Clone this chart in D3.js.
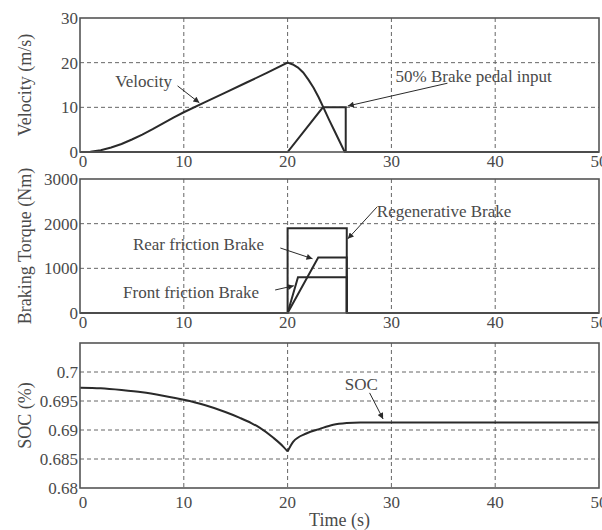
<!DOCTYPE html>
<html>
<head>
<meta charset="utf-8">
<script src="https://cdn.jsdelivr.net/npm/d3@7"></script>
<style>
  body { margin: 0; background: #fff; }
  text { font-family: "Liberation Serif", "DejaVu Serif", serif; fill: #4a4a4a; }
</style>
</head>
<body>
<div id="chart"></div>
<script>
// x axis (time, s)
const timeTicks = [0, 10, 20, 30, 40, 50];

// panel 1 : velocity (m/s) and brake pedal input
const velTicks = [0, 10, 20, 30];
const velocity = [
  [0, 0], [1, 0.05], [2, 0.4], [3, 1.0], [4, 1.8], [5, 2.8], [6, 3.9], [7, 5.1],
  [8, 6.4], [9, 7.7], [10, 8.9], [12, 11.1], [14, 13.3], [16, 15.5], [18, 17.7],
  [20, 20], [20.5, 19.6], [21, 18.9], [21.5, 17.8], [22, 16.2], [22.5, 14.4],
  [23, 12.2], [23.5, 9.7], [24, 7.2], [24.5, 4.8], [25, 2.4], [25.5, 0], [50, 0]
];
const pedal = [[0, 0], [20, 0], [23.4, 10], [25.6, 10], [25.6, 0], [50, 0]];

// panel 2 : braking torque (Nm)
const torqueTicks = [0, 1000, 2000, 3000];
const regenBrake = [[0, 0], [20, 0], [20, 1900], [25.7, 1900], [25.7, 0], [50, 0]];
const rearBrake = [[20, 0], [22.95, 1240], [25.7, 1240], [25.7, 0]];
const frontBrake = [[20, 0], [21.0, 800], [25.7, 800], [25.7, 0]];

// panel 3 : state of charge
const socTicks = [0.68, 0.685, 0.69, 0.695, 0.7];
const soc = [
  [0, 0.6973], [2, 0.6972], [4, 0.6969], [6, 0.6965], [8, 0.6959], [10, 0.6952],
  [12, 0.6943], [14, 0.6931], [15.4, 0.6921], [16.5, 0.6912], [17.3, 0.6904],
  [18.6, 0.6887], [19.6, 0.6871], [20, 0.6863], [20.55, 0.688], [21.8, 0.6894],
  [23.1, 0.6902], [24.4, 0.6909], [25.7, 0.6912], [27, 0.6913], [50, 0.6913]
];
const socDipTime = 20;

// annotations: text, text anchor point, arrow start, arrow tip (data units)
const velNotes = [
  { text: "Velocity", at: [3.4, 14.6], from: [9.4, 14.8], to: [11.5, 11.0] },
  { text: "50% Brake pedal input", at: [30.4, 15.7], from: [35.4, 15.4], to: [25.8, 10.3] }
];
const torqueNotes = [
  { text: "Regenerative Brake", at: [28.6, 2150], from: [28.6, 2370], to: [25.8, 1660] },
  { text: "Rear friction Brake", at: [5.1, 1410], from: [19.3, 1455], to: [22.4, 1215] },
  { text: "Front friction Brake", at: [4.15, 336], from: [18.8, 515], to: [20.6, 610] }
];
const socNotes = [
  { text: "SOC", at: [25.5, 0.6969], from: [27.9, 0.6964], to: [29.2, 0.6919] }
];

const width = 602, height = 530;
const left = 80, right = 599;

const svg = d3.select("#chart")
  .append("svg")
  .attr("width", width)
  .attr("height", height);

svg.append("defs")
  .append("marker")
  .attr("id", "arrow")
  .attr("viewBox", "0 0 10 10")
  .attr("refX", 10)
  .attr("refY", 5)
  .attr("markerUnits", "userSpaceOnUse")
  .attr("markerWidth", 8)
  .attr("markerHeight", 6)
  .attr("orient", "auto")
  .append("path")
  .attr("d", "M0,0L10,5L0,10z")
  .attr("fill", "#2a2a2a");

const x = d3.scaleLinear().domain([0, 50]).range([left, right]);

function drawPanel(cfg) {
  const y = d3.scaleLinear().domain(cfg.domain).range([cfg.bottom, cfg.top]);
  const g = svg.append("g");

  // dashed grid
  g.selectAll(".vgrid")
    .data(timeTicks.slice(1, -1))
    .join("line")
    .attr("x1", (d) => x(d)).attr("x2", (d) => x(d))
    .attr("y1", cfg.top).attr("y2", cfg.bottom)
    .attr("stroke", "#666")
    .attr("stroke-dasharray", "4,3");
  g.selectAll(".hgrid")
    .data(cfg.ticks.filter((d) => d > cfg.domain[0] && d < cfg.domain[1]))
    .join("line")
    .attr("x1", left).attr("x2", right)
    .attr("y1", (d) => y(d)).attr("y2", (d) => y(d))
    .attr("stroke", "#666")
    .attr("stroke-dasharray", "4,3");

  // tick labels
  g.selectAll(".xt")
    .data(timeTicks)
    .join("text")
    .attr("x", (d) => x(d) + (d === 0 ? 3 : 0))
    .attr("y", cfg.bottom + cfg.xLabelGap)
    .attr("text-anchor", "middle")
    .attr("font-size", 17)
    .text((d) => d);
  g.selectAll(".yt")
    .data(cfg.ticks)
    .join("text")
    .attr("x", left - 2)
    .attr("y", (d) => y(d) + 6)
    .attr("text-anchor", "end")
    .attr("font-size", 17)
    .text(cfg.fmt);

  // axis label
  g.append("text")
    .attr("transform", `translate(31,${(cfg.top + cfg.bottom) / 2}) rotate(-90)`)
    .attr("text-anchor", "middle")
    .attr("font-size", 18)
    .text(cfg.label);

  cfg.series.forEach((s) => {
    const line = d3.line()
      .x((d) => x(d[0]))
      .y((d) => y(d[1]))
      .curve(s.curve || d3.curveLinear);
    g.append("path")
      .datum(s.data)
      .attr("d", line)
      .attr("fill", "none")
      .attr("stroke", "#2a2a2a")
      .attr("stroke-width", 2);
  });

  // frame
  g.append("rect")
    .attr("x", left).attr("y", cfg.top)
    .attr("width", right - left).attr("height", cfg.bottom - cfg.top)
    .attr("fill", "none")
    .attr("stroke", "#555")
    .attr("stroke-width", 1.6);

  // annotations
  cfg.notes.forEach((n) => {
    g.append("text")
      .attr("x", x(n.at[0])).attr("y", y(n.at[1]))
      .attr("font-size", 17)
      .text(n.text);
    g.append("line")
      .attr("x1", x(n.from[0])).attr("y1", y(n.from[1]))
      .attr("x2", x(n.to[0])).attr("y2", y(n.to[1]))
      .attr("stroke", "#2a2a2a")
      .attr("stroke-width", 1)
      .attr("marker-end", "url(#arrow)");
  });
}

drawPanel({
  top: 18, bottom: 152, domain: [0, 30], ticks: velTicks, fmt: (d) => d,
  label: "Velocity (m/s)",
  series: [{ data: velocity }, { data: pedal }],
  notes: velNotes, xLabelGap: 15
});
drawPanel({
  top: 179, bottom: 313, domain: [0, 3000], ticks: torqueTicks, fmt: (d) => d,
  label: "Braking Torque (Nm)",
  series: [{ data: regenBrake }, { data: rearBrake }, { data: frontBrake }],
  notes: torqueNotes, xLabelGap: 15
});
// SOC: smooth on both sides of the cusp at the start of braking
drawPanel({
  top: 343, bottom: 488, domain: [0.68, 0.705], ticks: socTicks, fmt: (d) => +d.toFixed(3),
  label: "SOC (%)",
  series: [
    { data: soc.filter((d) => d[0] <= socDipTime), curve: d3.curveMonotoneX },
    { data: soc.filter((d) => d[0] >= socDipTime), curve: d3.curveMonotoneX }
  ],
  notes: socNotes, xLabelGap: 20
});

svg.append("text")
  .attr("x", (left + right) / 2)
  .attr("y", 526)
  .attr("text-anchor", "middle")
  .attr("font-size", 18)
  .text("Time (s)");
</script>
</body>
</html>
